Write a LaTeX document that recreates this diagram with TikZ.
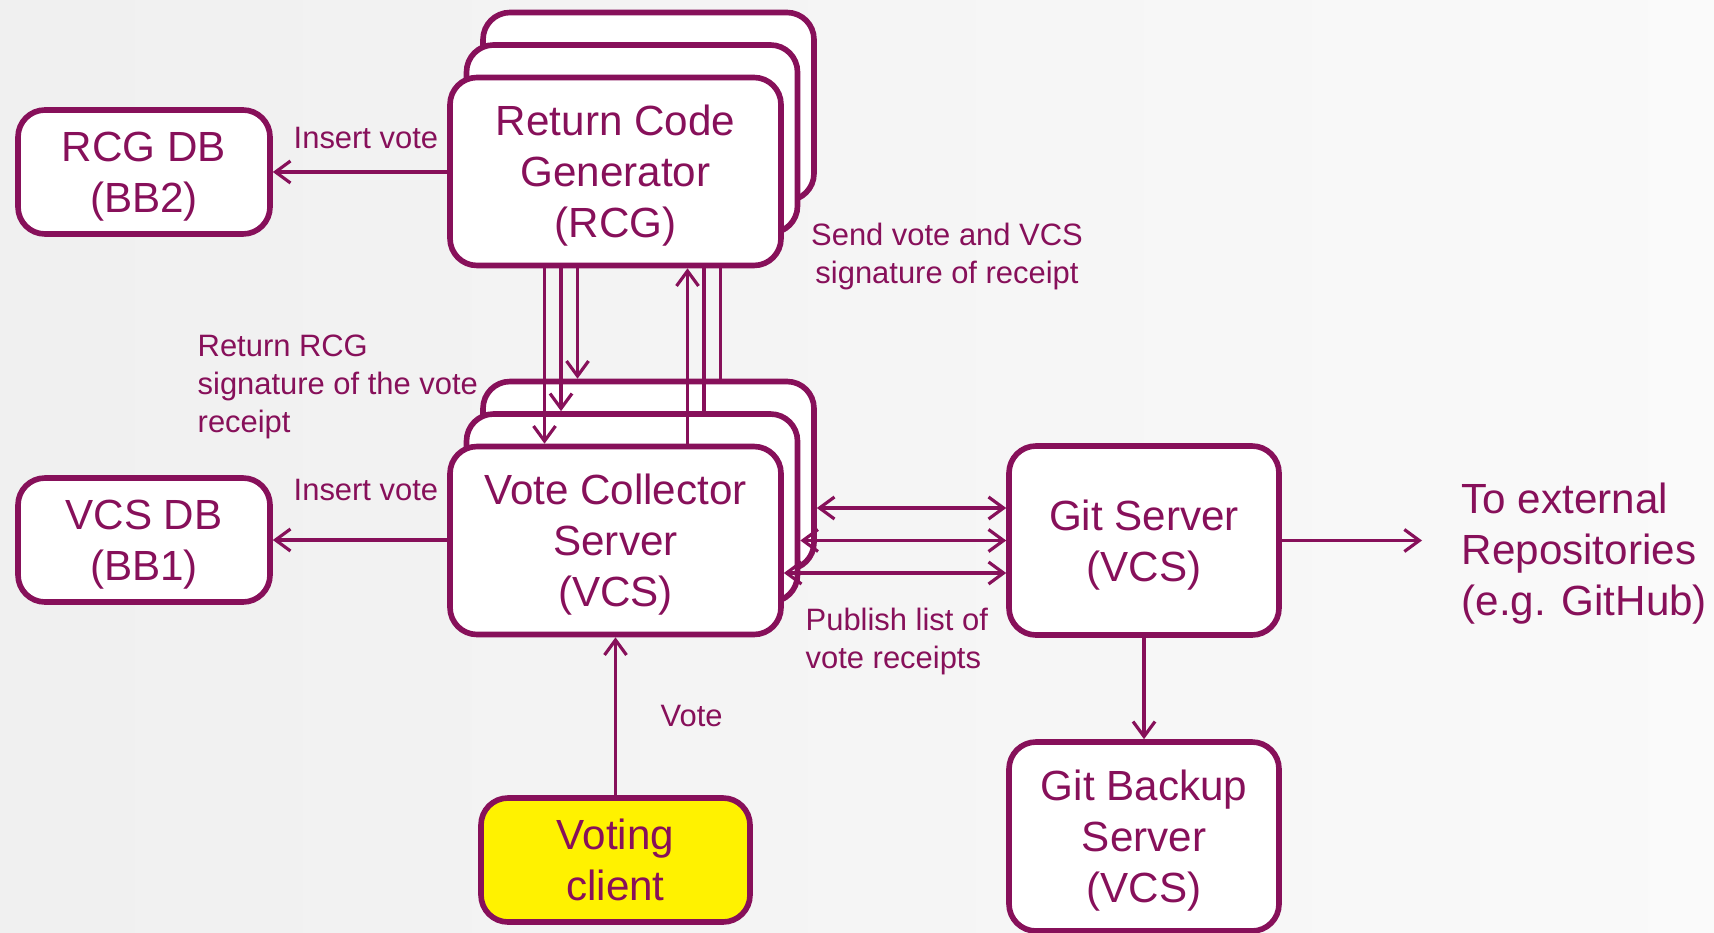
\documentclass[tikz,border=0pt]{standalone}
\usepackage{fontspec}
\setmainfont{Liberation Sans}
\usepackage{tikz}
\usetikzlibrary{calc,arrows.meta}
\definecolor{vpurple}{RGB}{135,16,90}

\tikzset{
    box/.style={draw=vpurple, line width=1.6pt, rounded corners=2.7mm, fill=white,
        text=vpurple, align=center, inner sep=0pt, font=\fontsize{12}{14.5}\selectfont,
        text depth=0pt},
    bigbox/.style={box, minimum width=33.1mm, minimum height=18.8mm},
    dbbox/.style={box, minimum width=25.2mm, minimum height=12.4mm},
    gitbox/.style={box, minimum width=27mm, minimum height=18.9mm},
    lbl/.style={text=vpurple, inner sep=0pt, font=\fontsize{8.8}{10.8}\selectfont},
    conn/.style={draw=vpurple, line width=0.9pt},
}

\begin{document}
\begin{tikzpicture}[x=0.1mm, y=-0.1mm, >={Straight Barb[length=1.5mm,width=2.2mm]}]
    \def\dx{16.5}
    \def\dy{-32.5}
    \def\ax{71}
    \def\bx{72}
    \def\hy{32.5}

    \useasboundingbox (0,0) rectangle (1714,932);
    \shade[left color=black!6, right color=black!2] (0,0) rectangle (1714,932);

    \coordinate (rcgpos) at (615.5,171.5);
    \coordinate (vcspos) at (615.5,540.5);

    % Git Servers
    \node[gitbox] (git) at (1144,540.5) {Git Server\\(VCS)};
    \node[gitbox] (gitbak) at (1144,836.5) {Git Backup\\Server\\(VCS)};

    % Back Boxes
    \foreach \k in {2,1} {
        \node[bigbox] (rcg\k) at ($(rcgpos)+\k*(\dx,\dy)$) {};
        \node[bigbox] (vcs\k) at ($(vcspos)+\k*(\dx,\dy)$) {};
        \draw[conn,->] ($(rcg\k.south)+(-\ax,0)$) -- ($(vcs\k.north)+(-\ax,0)$);
        \draw[conn,->] ($(vcs\k.north)+(\bx,0)$) -- ($(rcg\k.south)+(\bx,0)$);
        \draw[conn,<->] ($(vcs\k.east)+(0,\hy)$) -- ($(git.west)+(0,\hy+\k*\dy)$);
    }

    % Front Boxes
    \node[bigbox] (rcg0) at (rcgpos) {Return Code\\Generator\\(RCG)};
    \node[bigbox] (vcs0) at (vcspos) {Vote Collector\\Server\\(VCS)};
    \draw[conn,->] ($(rcg0.south)+(-\ax,0)$) -- ($(vcs0.north)+(-\ax,0)$);
    \draw[conn,->] ($(vcs0.north)+(\bx,0)$) -- ($(rcg0.south)+(\bx,0)$);
    \draw[conn,<->] ($(vcs0.east)+(0,\hy)$) -- ($(git.west)+(0,\hy)$);

    % Databases
    \node[dbbox] (rcgdb) at (144,172) {RCG DB\\(BB2)};
    \node[dbbox] (vcsdb) at (144,540) {VCS DB\\(BB1)};
    \draw[conn,->] (rcg0.west |- rcgdb.east) -- (rcgdb.east);
    \draw[conn,->] (vcs0.west |- vcsdb.east) -- (vcsdb.east);

    % Client
    \node[box, fill=yellow, minimum width=26.9mm, minimum height=12.4mm] (client) at (615.5,860) {Voting\\client};
    \draw[conn,->] (client.north) -- (vcs0.south);

    % Git Links
    \coordinate (extend) at (1422,540.5);
    \draw[conn,->] (git.east) -- (extend);
    \draw[conn,->] (git.south) -- (gitbak.north);

    % Labels
    \node[lbl, anchor=base west] (insrcg) at (293,149) {Insert vote};
    \node[lbl, anchor=base west] (insvcs) at (293,500) {Insert vote};
    \node[lbl, anchor=north west, align=left] (retlbl) at (197,334) {Return RCG\\signature of the vote\\receipt};
    \node[lbl, anchor=north, align=center] (sendlbl) at (947,222) {Send vote and VCS\\signature of receipt};
    \node[lbl, anchor=north west, align=left] (publbl) at (805,607) {Publish list of\\vote receipts};
    \node[lbl, anchor=base west] (votelbl) at (660,726) {Vote};
    \node[anchor=north west, align=left, inner sep=0pt, text=vpurple, font=\fontsize{12}{14.5}\selectfont] (extlbl) at (1461,482) {To external\\Repositories\\(e.g. GitHub)};

\end{tikzpicture}
\end{document}
